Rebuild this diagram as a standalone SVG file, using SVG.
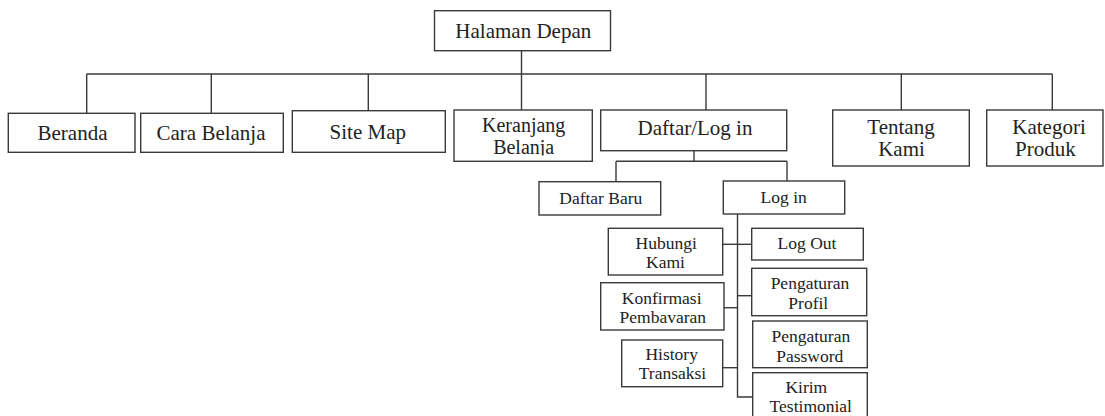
<svg xmlns="http://www.w3.org/2000/svg" width="1105" height="416" viewBox="0 0 1105 416" font-family="'Liberation Serif', 'Times New Roman', serif">
<style>
rect{fill:#fff;stroke:#3a3a3a;stroke-width:1.4}
.c line,.c polyline{stroke:#3a3a3a;stroke-width:1.4;fill:none}
text{font-family:'Liberation Serif','Times New Roman',serif;fill:#222;text-anchor:middle}
.t{font-size:21px}
.k{font-size:20px}
.s{font-size:17.5px}
</style>
<defs>
<clipPath id="kb"><rect x="454" y="110" width="139" height="45.5"/></clipPath>
</defs>
<rect x="0" y="0" width="1105" height="416" style="fill:#fff;stroke:none"/>
<g class="c" id="connectors">
<line x1="521.5" y1="50.7" x2="521.5" y2="74"/>
<line x1="86.7" y1="74" x2="1052.3" y2="74"/>
<line x1="86.7" y1="74" x2="86.7" y2="113.3"/>
<line x1="211.3" y1="74" x2="211.3" y2="113.3"/>
<line x1="368.3" y1="74" x2="368.3" y2="110.7"/>
<line x1="521.5" y1="74" x2="521.5" y2="110"/>
<line x1="706" y1="74" x2="706" y2="110"/>
<line x1="901.3" y1="74" x2="901.3" y2="110"/>
<line x1="1052.3" y1="74" x2="1052.3" y2="110"/>
<line x1="694" y1="150.7" x2="694" y2="161.3"/>
<line x1="616" y1="161.3" x2="787" y2="161.3"/>
<line x1="616" y1="161.3" x2="616" y2="181.7"/>
<line x1="787" y1="161.3" x2="787" y2="181"/>
<polyline points="737.5,214 737.5,397 752.7,397"/>
<line x1="722.7" y1="244.3" x2="751.7" y2="244.3"/>
<line x1="737.5" y1="295.7" x2="751.7" y2="295.7"/>
<line x1="724" y1="307.7" x2="737.5" y2="307.7"/>
<line x1="722.7" y1="367.7" x2="737.5" y2="367.7"/>
</g>
<g id="halaman-depan"><rect x="434.5" y="10.7" width="176" height="40"/><text class="t" x="523.3" y="37.5">Halaman Depan</text></g>
<g id="beranda"><rect x="8.3" y="113.3" width="126.7" height="39"/><text class="t" x="72.5" y="140">Beranda</text></g>
<g id="cara-belanja"><rect x="140.7" y="113.3" width="142.6" height="39"/><text class="t" x="211" y="140">Cara Belanja</text></g>
<g id="site-map"><rect x="292.3" y="110.7" width="153" height="41.6"/><text class="t" x="367.8" y="138.5">Site Map</text></g>
<g id="keranjang-belanja"><rect x="454" y="110" width="138.3" height="51.3"/><text class="k" x="523.7" y="132">Keranjang</text><text class="k" x="523.7" y="153.5" clip-path="url(#kb)">Belanja</text></g>
<g id="daftar-login"><rect x="600.7" y="110" width="186" height="40.7"/><text class="t" x="695" y="135">Daftar/Log in</text></g>
<g id="tentang-kami"><rect x="832.7" y="110" width="136.6" height="56"/><text class="t" x="901" y="134">Tentang</text><text class="t" x="901.5" y="155.7">Kami</text></g>
<g id="kategori-produk"><rect x="986.7" y="110" width="116.3" height="56"/><text class="t" x="1049" y="134">Kategori</text><text class="t" x="1045.3" y="155.7">Produk</text></g>
<g id="daftar-baru"><rect x="539" y="181.7" width="121.7" height="33.3"/><text class="s" x="600.8" y="204">Daftar Baru</text></g>
<g id="log-in"><rect x="723.3" y="181" width="121.4" height="33"/><text class="s" x="783.7" y="203.3">Log in</text></g>
<g id="hubungi-kami"><rect x="608.3" y="228.3" width="114.4" height="46.7"/><text class="s" x="666.2" y="249.3">Hubungi</text><text class="s" x="665.5" y="268.3">Kami</text></g>
<g id="log-out"><rect x="751.7" y="228.3" width="111.6" height="31.7"/><text class="s" x="807" y="249.3">Log Out</text></g>
<g id="pengaturan-profil"><rect x="751.7" y="268.3" width="115" height="47.4"/><text class="s" x="810" y="289">Pengaturan</text><text class="s" x="808.3" y="309">Profil</text></g>
<g id="konfirmasi-pembayaran"><rect x="600.7" y="282.7" width="123.3" height="47.3"/><text class="s" x="661.7" y="304">Konfirmasi</text><text class="s" x="662.8" y="323.3">Pembavaran</text></g>
<g id="pengaturan-password"><rect x="752.7" y="321" width="114.6" height="46.7"/><text class="s" x="810.8" y="341.7">Pengaturan</text><text class="s" x="809.8" y="361.7">Password</text></g>
<g id="history-transaksi"><rect x="621.7" y="340" width="101" height="46.7"/><text class="s" x="671.7" y="360">History</text><text class="s" x="672.5" y="379.3">Transaksi</text></g>
<g id="kirim-testimonial"><rect x="752.7" y="372.7" width="114.6" height="50"/><text class="s" x="806.3" y="393.3">Kirim</text><text class="s" x="810.8" y="411.7">Testimonial</text></g>
</svg>
